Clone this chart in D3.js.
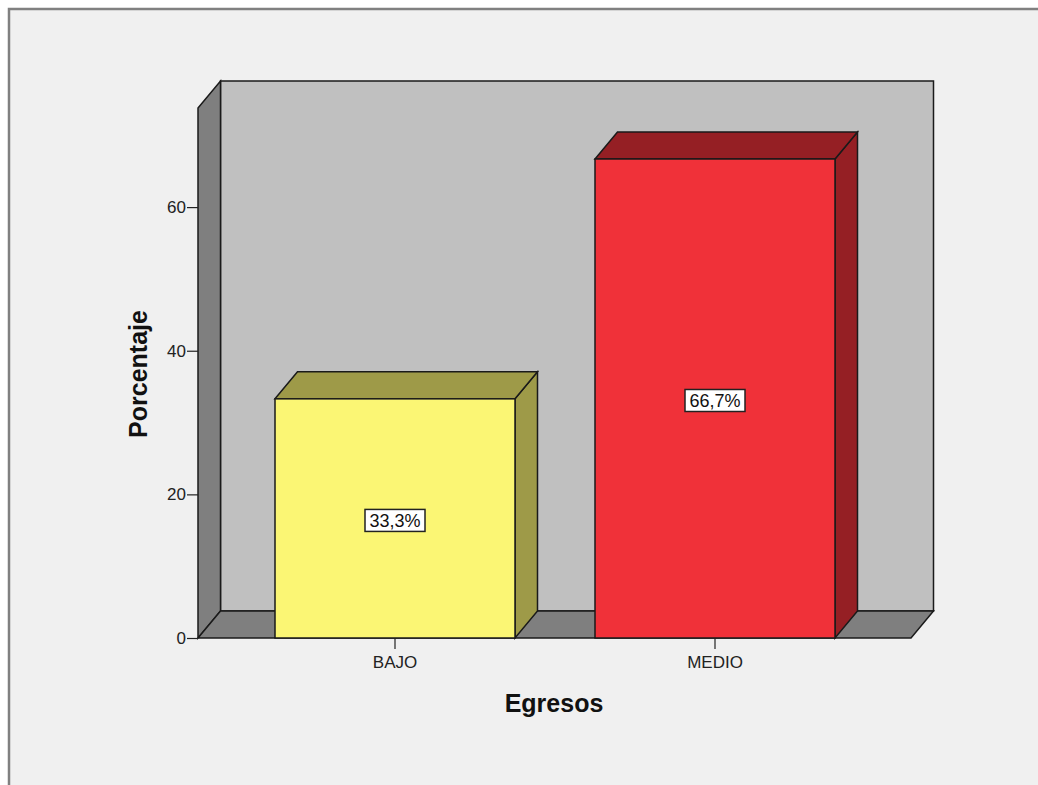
<!DOCTYPE html>
<html>
<head>
<meta charset="utf-8">
<script src="https://cdn.jsdelivr.net/npm/d3@7"></script>
<style>
body { margin: 0; background: #ffffff; }
svg { display: block; }
</style>
</head>
<body>
<svg id="chart" width="1038" height="785"></svg>
<script>
/*	Data -------------------------------------------------------------------*/
var categories = ["BAJO", "MEDIO"];
var percentages = [33.3, 66.7];
var barLabels = ["33,3%", "66,7%"];
var yTicks = [0, 20, 40, 60];
var frontColors = ["#fbf674", "#f03139"];
var shadeColors = ["#9e9a48", "#951f24"];

/*	Layout -----------------------------------------------------------------*/
var depth = { dx: 22.5, dy: 27 };
var font = "Arial, 'Liberation Sans', sans-serif";
var svg = d3.select("#chart");

var xScale = d3.scaleBand()
	.domain(categories)
	.range([235, 875])
	.paddingInner(0.25)
	.paddingOuter(0.125);

var yScale = d3.scaleLinear()
	.domain([0, 73.8])
	.range([638, 108]);

var left = 198, right = 911;
var y0 = yScale(0), yTop = yScale(73.8);

/*	Outer frame ------------------------------------------------------------*/
svg.append("rect")
	.attr("x", 9).attr("y", 9)
	.attr("width", 1040).attr("height", 800)
	.style("fill", "#f0f0f0")
	.style("stroke", "#808080")
	.style("stroke-width", 2.5);

var line = function(pts) {
	return "M" + pts.map(function(p){ return p[0] + "," + p[1]; }).join("L") + "Z";
};

/*	Back wall, left wall and floor -----------------------------------------*/
svg.append("path")
	.attr("d", line([[left + depth.dx, yTop - depth.dy], [right + depth.dx, yTop - depth.dy],
		[right + depth.dx, y0 - depth.dy], [left + depth.dx, y0 - depth.dy]]))
	.style("fill", "#c0c0c0")
	.style("stroke", "#1a1a1a")
	.style("stroke-width", 1.5);

svg.append("path")
	.attr("d", line([[left, yTop], [left + depth.dx, yTop - depth.dy],
		[left + depth.dx, y0 - depth.dy], [left, y0]]))
	.style("fill", "#7f7f7f")
	.style("stroke", "#1a1a1a")
	.style("stroke-width", 1.5);

svg.append("path")
	.attr("d", line([[left, y0], [left + depth.dx, y0 - depth.dy],
		[right + depth.dx, y0 - depth.dy], [right, y0]]))
	.style("fill", "#7f7f7f")
	.style("stroke", "#1a1a1a")
	.style("stroke-width", 1.5);

/*	Bars -------------------------------------------------------------------*/
var bars = svg.append("g").selectAll("g")
	.data(categories)
	.enter()
	.append("g");

bars.append("path")
	.attr("d", function(d, i){
		var x1 = xScale(d), x2 = x1 + xScale.bandwidth(), yv = yScale(percentages[i]);
		return line([[x2, yv], [x2 + depth.dx, yv - depth.dy], [x2 + depth.dx, y0 - depth.dy], [x2, y0]]);
	})
	.style("fill", function(d, i){ return shadeColors[i]; })
	.style("stroke", "#1a1a1a")
	.style("stroke-width", 1.5);

bars.append("path")
	.attr("d", function(d, i){
		var x1 = xScale(d), x2 = x1 + xScale.bandwidth(), yv = yScale(percentages[i]);
		return line([[x1, yv], [x1 + depth.dx, yv - depth.dy], [x2 + depth.dx, yv - depth.dy], [x2, yv]]);
	})
	.style("fill", function(d, i){ return shadeColors[i]; })
	.style("stroke", "#1a1a1a")
	.style("stroke-width", 1.5);

bars.append("rect")
	.attr("x", function(d){ return xScale(d); })
	.attr("y", function(d, i){ return yScale(percentages[i]); })
	.attr("width", xScale.bandwidth())
	.attr("height", function(d, i){ return y0 - yScale(percentages[i]); })
	.style("fill", function(d, i){ return frontColors[i]; })
	.style("stroke", "#1a1a1a")
	.style("stroke-width", 1.5);

/*	Value labels -----------------------------------------------------------*/
var labels = bars.append("g")
	.attr("transform", function(d, i){
		var cx = xScale(d) + xScale.bandwidth() / 2;
		var cy = (yScale(percentages[i]) + y0) / 2 + 2;
		return "translate(" + cx + "," + cy + ")";
	});
labels.append("rect")
	.attr("x", -30).attr("y", -11)
	.attr("width", 60).attr("height", 22)
	.style("fill", "white")
	.style("stroke", "#222")
	.style("stroke-width", 1.5);
labels.append("text")
	.attr("text-anchor", "middle")
	.attr("dy", "0.36em")
	.attr("font-family", font)
	.attr("font-size", "18px")
	.style("fill", "#111")
	.text(function(d, i){ return barLabels[i]; });

/*	Y axis ticks -----------------------------------------------------------*/
var yAxis = svg.append("g")
	.attr("transform", "translate(" + left + ",0)")
	.call(d3.axisLeft(yScale).tickValues(yTicks).tickSize(11).tickPadding(1));
yAxis.select(".domain").remove();
yAxis.selectAll("g.tick line").style("stroke", "#222").style("stroke-width", 1.2);
yAxis.selectAll("g.tick text")
	.style("font", "17px " + font)
	.style("fill", "#222");

/*	X axis ticks and labels ------------------------------------------------*/
var xAxis = svg.append("g")
	.attr("transform", "translate(0," + y0 + ")")
	.call(d3.axisBottom(xScale).tickSize(11).tickPadding(0));
xAxis.select(".domain").remove();
xAxis.selectAll("g.tick line").style("stroke", "#222").style("stroke-width", 1.2);
xAxis.selectAll("g.tick text")
	.attr("y", 30)
	.attr("dy", null)
	.style("font", "17px " + font)
	.style("fill", "#222");

/*	Axis titles ------------------------------------------------------------*/
svg.append("text")
	.attr("x", 554).attr("y", 712)
	.attr("text-anchor", "middle")
	.attr("font-family", font)
	.attr("font-size", "25px")
	.attr("font-weight", "bold")
	.style("fill", "#111")
	.text("Egresos");

svg.append("text")
	.attr("text-anchor", "middle")
	.attr("transform", "translate(147,374)rotate(-90)")
	.attr("font-family", font)
	.attr("font-size", "25px")
	.attr("font-weight", "bold")
	.style("fill", "#111")
	.text("Porcentaje");
</script>
</body>
</html>
